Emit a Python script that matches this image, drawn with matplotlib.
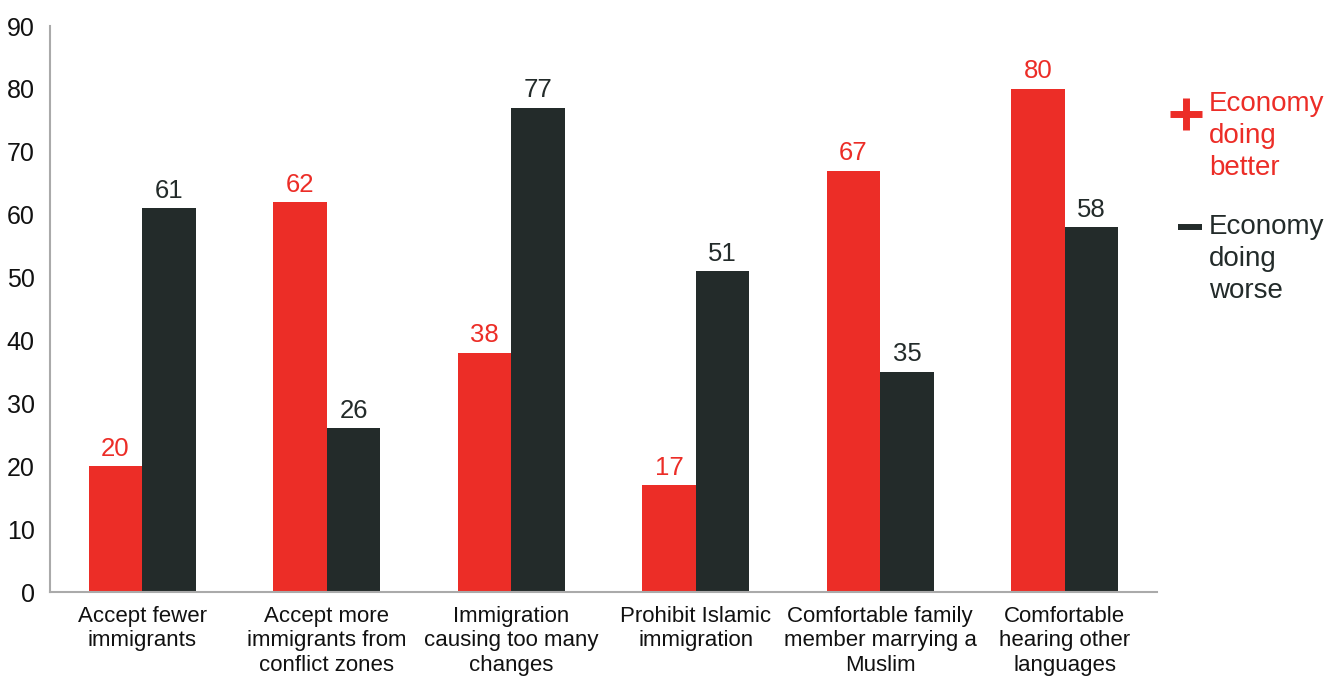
import matplotlib
matplotlib.use("Agg")
import matplotlib.pyplot as plt
import numpy as np

categories = ["Accept fewer\nimmigrants",
              "Accept more\nimmigrants from\nconflict zones",
              "Immigration\ncausing too many\nchanges",
              "Prohibit Islamic\nimmigration",
              "Comfortable family\nmember marrying a\nMuslim",
              "Comfortable\nhearing other\nlanguages"]
better = [20, 62, 38, 17, 67, 80]
worse = [61, 26, 77, 51, 35, 58]
yticks = [0, 10, 20, 30, 40, 50, 60, 70, 80, 90]

RED = "#EC2D27"
DARK = "#232B2A"
plt.rcParams['font.family'] = ['Liberation Sans', 'DejaVu Sans']

fig = plt.figure(figsize=(13.39, 6.79), dpi=100)
ax = fig.add_axes([50/1339, 1-592/679, (1157-50)/1339, (592-26)/679])

x = np.arange(len(categories))
w = 0.29
ax.bar(x - w/2, better, w, color=RED)
ax.bar(x + w/2, worse, w, color=DARK)
for xi, v in zip(x, better):
    ax.annotate(str(v), (xi - w/2, v), xytext=(0, 4), textcoords="offset points",
                ha="center", va="bottom", fontsize=18.5, color=RED)
for xi, v in zip(x, worse):
    ax.annotate(str(v), (xi + w/2, v), xytext=(0, 4), textcoords="offset points",
                ha="center", va="bottom", fontsize=18.5, color=DARK)

ax.set_xlim(-0.5, len(categories) - 0.5)
ax.set_ylim(0, 90)
ax.set_yticks(yticks)
ax.set_xticks(x)
ax.set_xticklabels(categories, fontsize=16, linespacing=1.22)
ax.tick_params(axis='y', labelsize=18, length=0, pad=11, labelcolor="#111111")
ax.tick_params(axis='x', length=0, pad=10, labelcolor="#111111")
for s in ["top", "right"]:
    ax.spines[s].set_visible(False)
for s in ["left", "bottom"]:
    ax.spines[s].set_color("#AAAAAA")
    ax.spines[s].set_linewidth(1.5)

# legend
def fx(px):
    return px / 1339
def fy(py):
    return 1 - py / 679

fig.add_artist(plt.Line2D([fx(1170), fx(1202)], [fy(114), fy(114)],
                          color=RED, lw=5, solid_capstyle="butt"))
fig.add_artist(plt.Line2D([fx(1186), fx(1186)], [fy(98), fy(130)],
                          color=RED, lw=5, solid_capstyle="butt"))
fig.text(fx(1209), fy(136), "Economy\ndoing\nbetter", fontsize=20, color=RED,
         ha="left", va="center", linespacing=1.28)
fig.add_artist(plt.Line2D([fx(1178), fx(1202)], [fy(227), fy(227)],
                          color=DARK, lw=4.3, solid_capstyle="butt"))
fig.text(fx(1209), fy(259), "Economy\ndoing\nworse", fontsize=20, color=DARK,
         ha="left", va="center", linespacing=1.28)

fig.savefig("out.png", dpi=100)
